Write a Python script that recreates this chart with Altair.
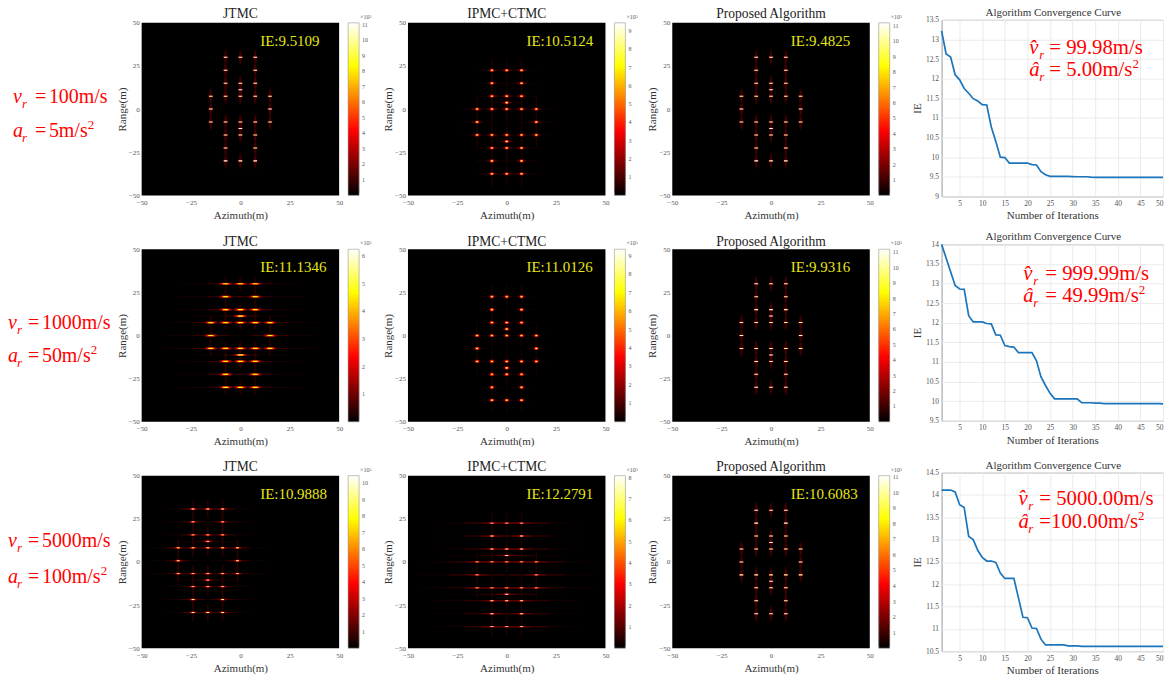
import altair as alt
import pandas as pd

SERIF = "Liberation Serif"
GREY = "#555555"

# ---------- scatterers: azimuth, range, relative gain ----------
UP_X = [-7.5, 0, 7.5, -7.5, 7.5, -7.5, 0, 7.5, 0, -15, -7.5, 0, 7.5, 15]
UP_Y = [30, 30, 30, 22.5, 22.5, 15, 15, 15, 11.25, 7.5, 7.5, 7.5, 7.5, 7.5]
UP_G = [.98, .94, .96, .94, .94, .92, .94, .92, 1.0, .92, .92, .92, .92, .92]
MID_X = [-15, 15]
MID_Y = [0, 0]
MID_G = [.96, .96]
TARGET_X = UP_X + MID_X + UP_X
TARGET_Y = UP_Y + MID_Y + [-v for v in UP_Y]
TARGET_G = UP_G + MID_G + UP_G

# response shapes: half-width (m), half-height (m), fraction of colour-bar max
THIN = [(.6, 4.5, .05), (.5, 3, .1), (1.2, .6, .16), (.9, .3, 1.0)]
CROSS_A = [(8, .2, .05), (.3, 7, .05), (2.5, .35, .12), (1.0, .9, .25), (.7, .5, .55), (.4, .3, .95)]
CROSS_B = [(6, .2, .035), (.3, 7, .04), (2, .35, .1), (1.0, .9, .28), (.7, .5, .55), (.4, .3, .95)]
WIDE = [(24, .2, .035), (9, .3, .09), (.5, 4, .05), (3, .6, .22), (2, .5, .45), (1.2, .35, .8)]
STAR = [(14, .2, .04), (.4, 5, .06), (6, .25, .09), (2, .4, .2), (.9, .5, .35), (.7, .25, .95)]
STREAK = [(30, .15, .04), (14, .3, .08), (.3, 6, .05), (5, .35, .13), (1.5, .4, .3), (.7, .25, .98)]

# ---------- panels ----------
ROW_TOP_OFFSET = [3, 5, 3]
COL_WIDTH = [200, 198, 203]
TITLE_BASE = [-1.7, 1.7, -2]
LINE_TITLE_BASE = [-4, -4, -3.7]
PANEL_TITLES = ["JTMC", "IPMC+CTMC", "Proposed Algorithm"]
PANEL_IE = [["IE:9.5109", "IE:10.5124", "IE:9.4825"],
            ["IE:11.1346", "IE:11.0126", "IE:9.9316"],
            ["IE:10.9888", "IE:12.2791", "IE:10.6083"]]
PANEL_MAX = [[11.13, 9.45, 11.2], [6.25, 9.35, 11.2], [10.45, 8.1, 11.1]]
PANEL_DX = [[0, 0, 0], [0, 0, 0], [-16.5, 0, 0]]
PANEL_DY = [[0, -7.5, 0], [0, -7.5, 0], [.7, -7.5, 0]]
PANEL_SHAPE = [[THIN, CROSS_A, THIN], [WIDE, CROSS_B, THIN], [STAR, STREAK, THIN]]
BAR_STEPS = 90

# ---------- convergence curves ----------
IE_R1 = [13.22, 12.63, 12.55, 12.1, 11.97, 11.75, 11.63, 11.49, 11.43, 11.34, 11.33, 10.77, 10.4, 10.0, 9.99,
         9.85, 9.85, 9.85, 9.85, 9.85, 9.81, 9.8, 9.63, 9.55, 9.51, 9.51, 9.51, 9.51, 9.51, 9.505,
         9.5, 9.5, 9.5, 9.49, 9.485, 9.485, 9.485, 9.485, 9.485, 9.485, 9.485, 9.485, 9.485, 9.485, 9.485,
         9.485, 9.485, 9.485, 9.485, 9.4825]
IE_R2 = [14.0, 13.65, 13.3, 12.95, 12.86, 12.85, 12.18, 12.02, 12.02, 12.02, 11.98, 11.97, 11.69, 11.68, 11.42,
         11.39, 11.38, 11.24, 11.24, 11.24, 11.24, 11.03, 10.62, 10.4, 10.2, 10.06, 10.06, 10.06, 10.06, 10.06,
         10.06, 9.96, 9.96, 9.96, 9.95, 9.95, 9.94, 9.94, 9.94, 9.94, 9.94, 9.94, 9.94, 9.94, 9.94,
         9.94, 9.94, 9.94, 9.94, 9.9316]
IE_R3 = [14.11, 14.11, 14.11, 14.07, 13.78, 13.72, 13.07, 13.0, 12.76, 12.6, 12.52, 12.52, 12.49, 12.25, 12.13,
         12.13, 12.13, 11.7, 11.26, 11.25, 11.02, 11.01, 10.77, 10.64, 10.64, 10.64, 10.64, 10.64, 10.62, 10.62,
         10.62, 10.61, 10.61, 10.61, 10.61, 10.61, 10.61, 10.61, 10.61, 10.61, 10.61, 10.61, 10.61, 10.61, 10.61,
         10.61, 10.61, 10.61, 10.61, 10.6083]
LINE_SERIES = [IE_R1, IE_R2, IE_R3]
LINE_YDOM = [(9, 13.5), (9.5, 14), (10.5, 14.5)]
LINE_HEIGHT = [177, 177, 179]
LINE_YTICKS = [[9 + .5 * i for i in range(10)], [9.5 + .5 * i for i in range(10)], [10.5 + .5 * i for i in range(9)]]
ITER = list(range(1, 51))

# ---------- annotations ----------
LEFT_V = ["100m/s", "1000m/s", "5000m/s"]
LEFT_A = ["5m/s", "50m/s", "100m/s"]
LEFT_POS = [(5, 27, 41, 83, 117), (0, 20, 34, 85, 118), (0, 20, 34, 75, 111)]
LEFT_HEIGHT = [185, 189, 179]
EST_V = ["= 99.98m/s", "= 999.99m/s", "= 5000.00m/s"]
EST_A = ["= 5.00m/s", "= 49.99m/s", "=100.00m/s"]
EST_POS = [(88, 108, 34, 56), (82, 104, 36, 58), (77, 98, 32, 55)]

EM = {"=": .564, " ": .25, ".": .25, "m": .778, "/": .278, "s": .389}


def em_width(s):
    return sum(EM.get(ch, .5) for ch in s)


def txt(s, x, y, size, color="red", style="normal", align="left", baseline="alphabetic"):
    return alt.Chart(pd.DataFrame({"t": [s]})).mark_text(
        font=SERIF, fontSize=size, color=color, fontStyle=style, align=align, baseline=baseline
    ).encode(text="t:N", x=alt.value(x), y=alt.value(y))


def heat(r, c):
    off = ROW_TOP_OFFSET[r]
    H = 173 + off
    w = COL_WIDTH[c]
    M = PANEL_MAX[r][c]
    rows = []
    for tx, ty, g in zip(TARGET_X, TARGET_Y, TARGET_G):
        for hw, hh, f in PANEL_SHAPE[r][c]:
            X = tx + PANEL_DX[r][c]
            Y = ty + PANEL_DY[r][c]
            v = f * M * (g if f > .2 else 1)
            rows.append(dict(x1=max(X - hw, -50), x2=min(X + hw, 50), y1=Y - hh, y2=Y + hh, v=v))
    df = pd.DataFrame(rows).sort_values("v", kind="stable")
    ticks = [-50, -25, 0, 25, 50]
    xs = alt.Scale(domain=[-50, 50], range=[0, 198], nice=False, zero=False)
    ys = alt.Scale(domain=[-50, 50], range=[H, off], nice=False, zero=False)
    cs = alt.Scale(domain=[0, .375 * M, .75 * M, M], range=["#000000", "#ff0000", "#ffff00", "#ffffff"],
                   clamp=True, interpolate="rgb", nice=False, zero=False)
    xa = alt.Axis(values=ticks, title="Azimuth(m)", grid=False, domain=False,
                  ticks=False, labelFontSize=7, labelPadding=3, labelColor=GREY,
                  labelFont=SERIF, titleFont=SERIF, titleFontSize=11, titleColor="#333",
                  titleFontWeight="normal", titlePadding=4, labelFlush=False)
    ya = alt.Axis(values=ticks, title="Range(m)", grid=False, domain=False,
                  ticks=False, labelFontSize=7, labelPadding=2.5, labelColor=GREY,
                  labelFont=SERIF, titleFont=SERIF, titleFontSize=11, titleColor="#333",
                  titleFontWeight="normal", titlePadding=1, labelFlush=False)
    bg = alt.Chart(pd.DataFrame({"x1": [-50], "x2": [50], "y1": [-50], "y2": [50]})).mark_rect(
        color="#000000").encode(
        x=alt.X("x1:Q", scale=xs, axis=xa), x2="x2:Q",
        y=alt.Y("y1:Q", scale=ys, axis=ya), y2="y2:Q",
    )
    rect = alt.Chart(df).mark_rect(clip=True).encode(
        x=alt.X("x1:Q", scale=xs, axis=xa), x2="x2:Q",
        y=alt.Y("y1:Q", scale=ys, axis=ya), y2="y2:Q",
        color=alt.Color("v:Q", scale=cs, legend=None),
    )
    ie = alt.Chart(pd.DataFrame({"x1": [10], "y1": [39.5], "t": [PANEL_IE[r][c]]})).mark_text(
        font=SERIF, fontSize=15, color="#e6e617", align="left", baseline="middle"
    ).encode(x=alt.X("x1:Q", scale=xs, axis=xa), y=alt.Y("y1:Q", scale=ys, axis=ya), text="t:N")
    unit = txt("\u00d710\u2075", 219, off - 4, 6, color=GREY)
    title = txt(PANEL_TITLES[c], 99, TITLE_BASE[r], 13.6, color="#222", align="center")

    # colour bar: one cell per level, placed by pixel, coloured by the same scale
    def px(val):
        return H - val / M * 173

    bar_df = pd.DataFrame([
        dict(v=(i + .5) / BAR_STEPS * M, p0=px(i / BAR_STEPS * M), p1=max(px((i + 2) / BAR_STEPS * M) - 1, px(M)))
        for i in range(BAR_STEPS)
    ])
    bar = alt.Chart(bar_df).mark_rect().encode(
        x=alt.value(207), x2=alt.value(218),
        y=alt.Y("p0:Q", scale=None), y2="p1:Q",
        color=alt.Color("v:Q", scale=cs, legend=None),
    )
    frame = alt.Chart(pd.DataFrame({"p0": [px(0)], "p1": [px(M)]})).mark_rect(
        fillOpacity=0, stroke="#999999", strokeWidth=.6
    ).encode(x=alt.value(207), x2=alt.value(218), y=alt.Y("p0:Q", scale=None), y2="p1:Q")
    tick_vals = list(range(1, int(M) + 1))
    bar_labels = alt.Chart(pd.DataFrame({"t": [str(v) for v in tick_vals], "p": [px(v) for v in tick_vals]})).mark_text(
        font=SERIF, fontSize=6, color=GREY, align="left", baseline="middle"
    ).encode(x=alt.value(221), y=alt.Y("p:Q", scale=None), text="t:N")
    return alt.layer(bg, rect, ie, bar, frame, bar_labels, unit, title).properties(width=w, height=H)


def curve(r):
    h = LINE_HEIGHT[r]
    df = pd.DataFrame({"iter": ITER, "ie": LINE_SERIES[r]})
    line = alt.Chart(df).mark_line(color="#1b75bc", strokeWidth=1.7).encode(
        x=alt.X("iter:Q", scale=alt.Scale(domain=[1, 50], nice=False, zero=False),
                axis=alt.Axis(values=list(range(5, 51, 5)), title="Number of Iterations", gridColor="#ebebeb",
                              domain=False, ticks=False, labelFontSize=7.5, labelPadding=3, labelColor=GREY,
                              labelFont=SERIF, titleFont=SERIF, titleFontSize=11, titleColor="#333",
                              titleFontWeight="normal", titlePadding=3, labelFlush=True)),
        y=alt.Y("ie:Q", scale=alt.Scale(domain=list(LINE_YDOM[r]), nice=False, zero=False),
                axis=alt.Axis(values=LINE_YTICKS[r], format="~g", title="IE", gridColor="#ebebeb", domain=False,
                              ticks=False, labelFontSize=7.5, labelPadding=3, labelColor=GREY, labelFont=SERIF,
                              titleFont=SERIF, titleFontSize=11, titleColor="#333", titleFontWeight="normal",
                              titlePadding=3, labelFlush=False)),
    )
    xh, xe, y1, y2 = EST_POS[r]
    S = 20.8
    parts = [line,
             txt("Algorithm Convergence Curve", 112, LINE_TITLE_BASE[r], 11, color="#333", align="center"),
             txt("v\u0302", xh, y1, S, style="italic"),
             txt("r", xh + 10, y1 + 5, 13, style="italic"),
             txt(EST_V[r], xe, y1, S),
             txt("a\u0302", xh, y2, S, style="italic"),
             txt("r", xh + 10, y2 + 5, 13, style="italic"),
             txt(EST_A[r], xe, y2, S),
             txt("2", xe + em_width(EST_A[r]) * S, y2 - 8, 13)]
    return alt.layer(*parts).properties(width=222, height=h, view=alt.ViewBackground(stroke="#999999"))


def left(r):
    xs, xe, xv, y1, y2 = LEFT_POS[r]
    S = 20
    parts = [txt("v", xs, y1, S, style="italic"),
             txt("r", xs + 9, y1 + 5, 13, style="italic"),
             txt("=", xe, y1, S),
             txt(LEFT_V[r], xv, y1, S),
             txt("a", xs, y2, S, style="italic"),
             txt("r", xs + 9, y2 + 5, 13, style="italic"),
             txt("=", xe, y2, S),
             txt(LEFT_A[r], xv, y2, S),
             txt("2", xv + em_width(LEFT_A[r]) * S, y2 - 8, 13)]
    return alt.layer(*parts).properties(width=67, height=LEFT_HEIGHT[r])


cells = []
for r in range(3):
    cells.append(left(r))
    for c in range(3):
        cells.append(heat(r, c))
    cells.append(curve(r))

chart = alt.concat(
    *cells, columns=5, align="each", bounds="flush", spacing={"row": 40, "column": 67}
).resolve_scale(color="independent").properties(
    padding={"left": 0, "top": -3, "right": 0, "bottom": 0}
).configure_view(stroke=None)

chart.save("out.html", embed_options={"renderer": "svg", "actions": False})
